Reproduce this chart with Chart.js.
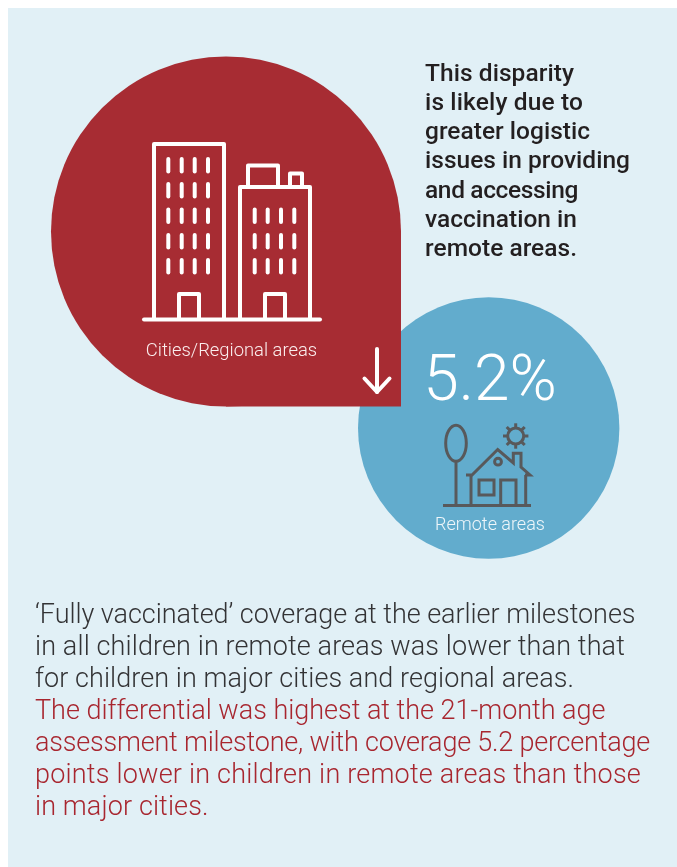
<!DOCTYPE html>
<html>
<head>
<meta charset="utf-8">
<title>Vaccination coverage differential</title>
<script src="https://cdn.jsdelivr.net/npm/chart.js@4"></script>
<style>
  html, body { margin: 0; padding: 0; background: #fff; }
  #wrap { position: relative; width: 677px; height: 867px; overflow: hidden; }
  canvas { display: block; }
</style>
</head>
<body>
<div id="wrap"><canvas id="infoChart" width="677" height="867"></canvas></div>
<script>
// Values
const areas = ['Cities/Regional areas', 'Remote areas'];
const differential = [5.2];
const sideNote = ['This disparity', 'is likely due to', 'greater logistic', 'issues in providing',
  'and accessing', 'vaccination in', 'remote areas.'];
const bodyLines = ['\u2018Fully vaccinated\u2019 coverage at the earlier milestones',
  'in all children in remote areas was lower than that',
  'for children in major cities and regional areas.'];
const highlightLines = ['The differential was highest at the 21-month age',
  'assessment milestone, with coverage 5.2 percentage',
  'points lower in children in remote areas than those',
  'in major cities.'];

// right edges of the text lines, so the substitute font keeps the same line lengths
const sideNoteEnds = [574, 583, 590, 630, 578, 577, 577];
const bodyEnds = [635.5, 625, 574];
const highlightEnds = [605.5, 650, 641, 208.5];

const RED = '#a72c33', BLUE = '#62accd', PANEL = '#e1f0f6', GREY = '#58595b';

function line(ctx, pts) {
  ctx.beginPath();
  pts.forEach(function(p, i) { i ? ctx.lineTo(p[0], p[1]) : ctx.moveTo(p[0], p[1]); });
  ctx.stroke();
}

function text(ctx, str, x, y, font, color, align) {
  ctx.font = font;
  ctx.fillStyle = color;
  ctx.textAlign = align || 'left';
  ctx.textBaseline = 'alphabetic';
  ctx.letterSpacing = '0px';
  ctx.fillText(str, x, y);
}

// left aligned line, spaced out to finish at the given right edge
function fitted(ctx, str, x, end, y, font, color) {
  ctx.font = font;
  ctx.fillStyle = color;
  ctx.textAlign = 'left';
  ctx.textBaseline = 'alphabetic';
  ctx.letterSpacing = '0px';
  const extra = (end - x - ctx.measureText(str).width) / str.length;
  ctx.letterSpacing = extra.toFixed(3) + 'px';
  ctx.fillText(str, x, y);
  ctx.letterSpacing = '0px';
}

function drawBuildings(ctx) {
  ctx.strokeStyle = '#fff';
  ctx.lineWidth = 4;
  ctx.lineCap = 'round';
  ctx.lineJoin = 'round';
  line(ctx, [[144, 319.5], [320, 319.5]]);
  line(ctx, [[154, 319], [154, 144], [224, 144], [224, 319]]);
  line(ctx, [[179, 319], [179, 294], [199, 294], [199, 319]]);
  line(ctx, [[240, 319], [240, 187], [310, 187], [310, 319]]);
  line(ctx, [[248, 187], [248, 165.5], [278, 165.5], [278, 187]]);
  line(ctx, [[290, 187], [290, 173.5], [302, 173.5], [302, 187]]);
  line(ctx, [[265, 319], [265, 294], [285, 294], [285, 319]]);
  [168.3, 181.7, 194.7, 208].forEach(function(x) {
    [159, 184, 209.5, 235, 260].forEach(function(y) { line(ctx, [[x, y], [x, y + 12.5]]); });
  });
  [254.7, 267.7, 281, 294.3].forEach(function(x) {
    [209.5, 235, 260].forEach(function(y) { line(ctx, [[x, y], [x, y + 12.5]]); });
  });
  // down arrow
  line(ctx, [[377, 349], [377, 392]]);
  line(ctx, [[364.5, 378.5], [377, 392], [389.5, 378.5]]);
}

function drawHouse(ctx) {
  ctx.strokeStyle = GREY;
  ctx.lineWidth = 3;
  ctx.lineCap = 'butt';
  ctx.lineJoin = 'miter';
  line(ctx, [[443, 505.5], [531, 505.5]]);
  ctx.beginPath();
  ctx.ellipse(456, 443.3, 10.3, 18, 0, 0, Math.PI * 2);
  ctx.stroke();
  line(ctx, [[456, 461.5], [456, 505.5]]);
  line(ctx, [[471, 505.5], [471, 475]]);
  line(ctx, [[525.7, 505.5], [525.7, 475]]);
  line(ctx, [[466, 475], [472, 475], [497.7, 449.5], [513.3, 463], [513.3, 453.3], [521, 453.3], [521, 467], [530, 475], [525, 475]]);
  ctx.beginPath();
  ctx.arc(498, 461.7, 3.4, 0, Math.PI * 2);
  ctx.stroke();
  ctx.strokeRect(479, 480, 15, 15);
  line(ctx, [[500.7, 505.5], [500.7, 480], [516, 480], [516, 505.5]]);
  // sun
  ctx.beginPath();
  ctx.arc(515.7, 436, 8, 0, Math.PI * 2);
  ctx.stroke();
  for (let i = 0; i < 8; i++) {
    const a = i * Math.PI / 4;
    line(ctx, [[515.7 + Math.cos(a) * 8, 436 + Math.sin(a) * 8], [515.7 + Math.cos(a) * 12.7, 436 + Math.sin(a) * 12.7]]);
  }
}

const panelPlugin = {
  id: 'panel',
  beforeDraw: function(chart) {
    const ctx = chart.ctx;
    ctx.save();
    ctx.fillStyle = PANEL;
    ctx.fillRect(8, 8, 669, 859);
    ctx.restore();
  }
};

const artPlugin = {
  id: 'art',
  afterDatasetsDraw: function(chart) {
    const ctx = chart.ctx;
    const cities = chart.getDatasetMeta(1).data[0];
    ctx.save();
    // square corner that turns the red circle into a drop
    const r = cities.options.radius;
    ctx.fillStyle = RED;
    ctx.fillRect(cities.x, cities.y, r, r);
    drawBuildings(ctx);
    drawHouse(ctx);

    text(ctx, areas[0], 231.5, 356, '300 18.4px Roboto', '#fbeeee', 'center');
    text(ctx, differential[0] + '%', 490, 400, '300 64px Roboto', '#fff', 'center');
    text(ctx, areas[1], 490, 530, '300 18px Roboto', '#eef6fa', 'center');

    sideNote.forEach(function(s, i) {
      fitted(ctx, s, 425, sideNoteEnds[i], 80.5 + i * 29.3, '500 24.5px Roboto', '#231f20');
    });
    bodyLines.forEach(function(s, i) {
      fitted(ctx, s, 35, bodyEnds[i], 622.5 + i * 32, '300 27px Roboto', '#333335');
    });
    highlightLines.forEach(function(s, i) {
      fitted(ctx, s, 35, highlightEnds[i], 718.5 + i * 32, '300 27px Roboto', '#a8262f');
    });
    ctx.restore();
  }
};

new Chart(document.getElementById('infoChart').getContext('2d'), {
  type: 'bubble',
  data: {
    datasets: [
      { label: areas[1], data: [{ x: 488.7, y: 428, r: 130.7 }], backgroundColor: BLUE, borderWidth: 0, order: 2, clip: false },
      { label: areas[0], data: [{ x: 226, y: 231.5, r: 175 }], backgroundColor: RED, borderWidth: 0, order: 1, clip: false }
    ]
  },
  options: {
    responsive: false,
    animation: false,
    events: [],
    layout: { padding: 0, autoPadding: false },
    plugins: { legend: { display: false }, tooltip: { enabled: false } },
    scales: {
      x: { type: 'linear', display: false, min: 0, max: 677 },
      y: { type: 'linear', display: false, min: 0, max: 867, reverse: true }
    }
  },
  plugins: [panelPlugin, artPlugin]
});
</script>
</body>
</html>
